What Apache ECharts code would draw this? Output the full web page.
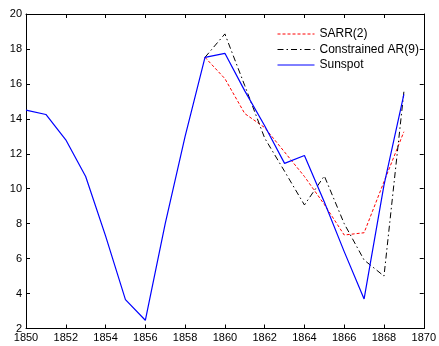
<!DOCTYPE html>
<html>
<head>
<meta charset="UTF-8"/>
<title>Sunspot</title>
<script src="https://cdn.jsdelivr.net/npm/echarts@6/dist/echarts.min.js"></script>
<style>
html,body{margin:0;padding:0;background:#fff;}
#chart{width:439px;height:346px;}
</style>
</head>
<body>
<div id="chart"></div>
<script>
// values
var years = [1850,1851,1852,1853,1854,1855,1856,1857,1858,1859,1860,1861,1862,1863,1864,1865,1866,1867,1868,1869];
var sunspot = [14.5,14.25,12.8,10.7,7.3,3.65,2.47,8.0,13.0,17.52,17.75,15.6,13.6,11.45,11.9,9.24,6.4,3.69,10.2,15.4];
var fcYears = [1859,1860,1861,1862,1863,1864,1865,1866,1867,1868,1869];
var sarr = [17.52,16.3,14.3,13.5,12.1,10.7,9.1,7.35,7.48,10.4,13.26];
var ar9 = [17.52,18.86,15.9,12.9,11.0,9.07,10.73,8.0,5.92,5.0,15.55];

function pairs(xs, ys) {
  var out = [];
  for (var i = 0; i < xs.length; i++) out.push([xs[i], ys[i]]);
  return out;
}

var font = 'Liberation Sans, Arial, sans-serif';
var axisLine = {show: true, lineStyle: {color: '#000', width: 1}};
var tick = {show: true, inside: true, length: 4, lineStyle: {color: '#000'}};

var chart = echarts.init(document.getElementById('chart'), null, {renderer: 'canvas'});
chart.setOption({
  backgroundColor: '#fff',
  animation: false,
  textStyle: {fontFamily: font},
  grid: {left: 26, right: 13, top: 14, bottom: 17.5, containLabel: false},
  legend: {
    orient: 'vertical',
    left: 272,
    top: 23,
    itemWidth: 37,
    itemHeight: 14,
    itemGap: 3.5,
    itemStyle: {opacity: 0},
    lineStyle: {width: 1},
    textStyle: {fontFamily: font, fontSize: 12, color: '#000'},
    data: ['SARR(2)', 'Constrained AR(9)', 'Sunspot']
  },
  xAxis: [
    {type: 'value', min: 1850, max: 1870, interval: 2, position: 'bottom',
     axisLine: axisLine, axisTick: tick, splitLine: {show: false},
     axisLabel: {color: '#000', fontSize: 11, fontFamily: font, margin: 4,
                 formatter: function (v) { return String(v); }}},
    {type: 'value', min: 1850, max: 1870, interval: 2, position: 'top',
     axisLine: axisLine, axisTick: tick, splitLine: {show: false},
     axisLabel: {show: false}}
  ],
  yAxis: [
    {type: 'value', min: 2, max: 20, interval: 2, position: 'left',
     axisLine: axisLine, axisTick: tick, splitLine: {show: false},
     axisLabel: {color: '#000', fontSize: 11, fontFamily: font, margin: 4}},
    {type: 'value', min: 2, max: 20, interval: 2, position: 'right',
     axisLine: axisLine, axisTick: tick, splitLine: {show: false},
     axisLabel: {show: false}}
  ],
  series: [
    {name: 'SARR(2)', type: 'line', symbol: 'none', data: pairs(fcYears, sarr),
     lineStyle: {color: '#ff0000', width: 1, type: [3, 2]}, itemStyle: {color: '#ff0000'}},
    {name: 'Constrained AR(9)', type: 'line', symbol: 'none', data: pairs(fcYears, ar9),
     lineStyle: {color: '#000', width: 1, type: [6, 3, 1.5, 3]}, itemStyle: {color: '#000'}},
    {name: 'Sunspot', type: 'line', symbol: 'none', data: pairs(years, sunspot),
     lineStyle: {color: '#0000ff', width: 1.2}, itemStyle: {color: '#0000ff'}}
  ]
});
</script>
</body>
</html>
